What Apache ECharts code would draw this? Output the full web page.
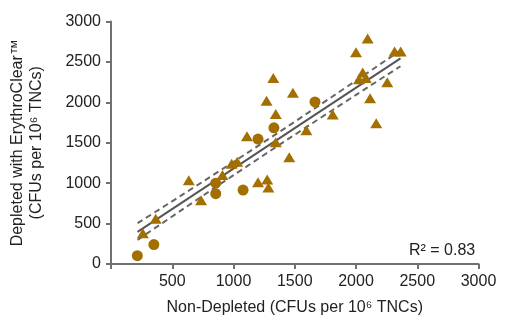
<!DOCTYPE html>
<html>
<head>
<meta charset="utf-8">
<style>
html,body{margin:0;padding:0;background:#fff;}
#chart{width:508px;height:321px;}
</style>
<script src="https://cdn.jsdelivr.net/npm/echarts@6/dist/echarts.min.js"></script>
</head>
<body>
<div id="chart"></div>
<script>
// Non-depleted vs depleted CFUs (circles)
const circleX = [215, 350, 855, 855, 1078, 1200, 1330, 1665];
const circleY = [103, 240, 1000, 870, 915, 1545, 1685, 2005];
// triangles
const triX = [260, 365, 635, 735, 910, 985, 1030, 1110, 1200, 1275, 1285, 1270, 1325, 1345, 1345, 1455, 1485, 1595, 1810, 2000, 2095, 2315, 2365, 2055, 2025, 2080, 2255, 2115, 2165];
const triY = [380, 560, 1035, 790, 1100, 1240, 1265, 1580, 1010, 1045, 945, 2020, 2300, 1855, 1505, 1320, 2120, 1655, 1850, 2620, 2790, 2630, 2630, 2370, 2285, 2300, 2250, 2050, 1740];
// regression line and confidence band
const fitX = [217, 2363];
const fitY = [397, 2543];
const bandX = [217, 1290, 2363];
const bandUpper = [505, 1550, 2643];
const bandLower = [298, 1390, 2446];
const xTicks = [0, 500, 1000, 1500, 2000, 2500, 3000];
const yTicks = [0, 500, 1000, 1500, 2000, 2500, 3000];
const r2Text = 'R\u00B2 = 0.83';

const zip = (a, b) => a.map((v, i) => [v, b[i]]);
const FONT = '"Liberation Sans", Arial, Helvetica, sans-serif';
const AX = '#707070';
const MARK = '#a36f00';

const chart = echarts.init(document.getElementById('chart'), null, {renderer: 'canvas'});
chart.setOption({
  animation: false,
  backgroundColor: '#fff',
  grid: {left: 106.5, top: 21.5, width: 372, height: 248, containLabel: false},
  xAxis: {
    type: 'value', min: xTicks[0], max: xTicks[xTicks.length - 1], interval: xTicks[1] - xTicks[0],
    name: 'Non-Depleted (CFUs per 10\u2076 TNCs)', nameLocation: 'middle', nameGap: 36,
    nameTextStyle: {fontFamily: FONT, fontSize: 16, color: '#222'},
    axisLine: {lineStyle: {color: AX, width: 2}},
    axisTick: {show: true, length: 5, lineStyle: {color: AX, width: 2}},
    axisLabel: {margin: 10, fontFamily: FONT, fontSize: 16, color: '#222',
      formatter: v => v === 0 ? '' : String(v)},
    splitLine: {show: false}
  },
  yAxis: {
    type: 'value', min: yTicks[0], max: yTicks[yTicks.length - 1], interval: yTicks[1] - yTicks[0],
    name: 'Depleted with ErythroClear\u2122\n(CFUs per 10\u2076 TNCs)', nameLocation: 'middle', nameGap: 65, nameRotate: 90,
    nameTextStyle: {fontFamily: FONT, fontSize: 16, color: '#222', lineHeight: 19},
    axisLine: {show: true, lineStyle: {color: AX, width: 2}},
    axisTick: {show: true, length: 5, lineStyle: {color: AX, width: 2}},
    axisLabel: {margin: 10, fontFamily: FONT, fontSize: 16, color: '#222',
      formatter: v => String(v)},
    splitLine: {show: false}
  },
  series: [
    {type: 'line', data: zip(bandX, bandUpper), smooth: true, symbol: 'none',
      lineStyle: {color: '#666', width: 2, type: [6, 4]}, z: 2},
    {type: 'line', data: zip(bandX, bandLower), smooth: true, symbol: 'none',
      lineStyle: {color: '#666', width: 2, type: [6, 4]}, z: 2},
    {type: 'line', data: zip(fitX, fitY), symbol: 'none',
      lineStyle: {color: '#555', width: 2}, z: 2},
    {type: 'scatter', data: zip(triX, triY), symbol: 'triangle', symbolSize: [12, 10],
      itemStyle: {color: MARK, opacity: 1}, z: 3},
    {type: 'scatter', data: zip(circleX, circleY), symbol: 'circle', symbolSize: 11,
      itemStyle: {color: MARK, opacity: 1}, z: 3}
  ],
  graphic: [{
    type: 'text', left: 409, top: 243,
    style: {text: r2Text, fontFamily: FONT, fontSize: 16, fill: '#222'}
  }]
});
</script>
</body>
</html>
